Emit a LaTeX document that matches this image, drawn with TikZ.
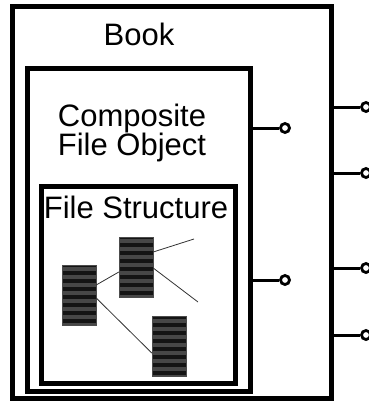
\documentclass[tikz,border=0pt]{standalone}
\usepackage{fontspec}
\setmainfont{Liberation Sans}
\begin{document}
\begin{tikzpicture}[x=1pt, y=-1pt,
  frame/.style={draw, line width=5pt, inner sep=0pt},
  title/.style={font=\fontsize{31}{28}\selectfont, inner sep=0pt, align=center},
  port/.style={draw, circle, line width=2.8pt, inner sep=0pt, minimum size=9pt, fill=white},
  stub/.style={line width=3pt},
  record/.style={draw=black!70, fill=black!92, inner sep=0pt, minimum width=34pt, minimum height=60pt,
    path picture={\foreach \k in {4,12,...,60}
      \draw[black!72, line width=4pt] ([yshift=-\k pt]path picture bounding box.north west)
        -- ([yshift=-\k pt]path picture bounding box.north east);}},
  link/.style={line width=0.8pt, black!80}]
\useasboundingbox (0,0) rectangle (368,402);

% Draw the nested frames
\node[frame, minimum width=318.5pt, minimum height=391.5pt] (book) at (171.75,202.25) {};
\node[frame, minimum width=223pt, minimum height=323pt] (composite) at (138.5,229.5) {};
\node[frame, minimum width=194pt, minimum height=197pt] (filestruct) at (138,284.5) {};

\node[title, anchor=base] (booktext) at (139,45) {Book};
\node[title] (comptext) at (132,133) {Composite\\File Object};
\node[title, anchor=base] (fstext) at (136,218) {File Structure};

% ports of the composite file object
\node[port] (c1) at (285,128) {};
\node[port] (c2) at (285,280) {};
\draw[stub] (composite.east |- c1) -- (c1);
\draw[stub] (composite.east |- c2) -- (c2);

% ports of the book
\foreach \y [count=\i] in {107,173,268,335} {
  \node[port] (b\i) at (366,\y) {};
  \draw[stub] (book.east |- b\i) -- (b\i);
}

% the records of the file structure
\node[record] (r1) at (79,295) {};
\node[record] (r2) at (136,267) {};
\node[record] (r3) at (169,346.5) {};
\coordinate (t1) at (194,239);
\coordinate (t2) at (198,302);

\draw[link] ([yshift=10pt]r1.east) -- ([yshift=-5pt]r2.west);
\draw[link] ([yshift=-3pt]r1.east) -- ([yshift=-6.5pt]r3.west);
\draw[link] ([yshift=15pt]r2.east) -- (t1);
\draw[link] ([yshift=-1pt]r2.east) -- (t2);
\end{tikzpicture}
\end{document}
